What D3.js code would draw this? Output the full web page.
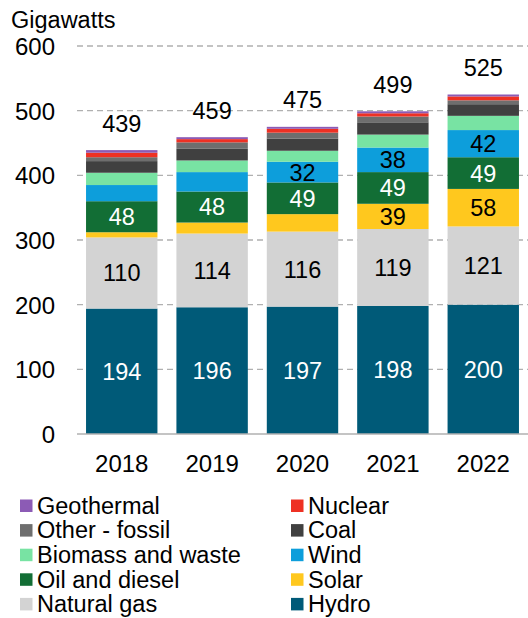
<!DOCTYPE html>
<html><head><meta charset="utf-8">
<script src="https://cdn.jsdelivr.net/npm/d3@7"></script>
<style>body{margin:0;background:#fff;font-family:"Liberation Sans",Arial,sans-serif;}</style>
</head><body><svg id="c" width="528" height="618"></svg>
<script>
const years = ["2018","2019","2020","2021","2022"];
const hydro   = [194,196,197,198,200];
const natGas  = [110,114,116,119,121];
const solar   = [8,17,27,39,58];
const oil     = [48,48,49,49,49];
const wind    = [25,30,32,38,42];
const biomass = [19,18,17,20,22];
const coal    = [18,18,19,19,18];
const otherF  = [6,10,9,9,6];
const nuclear = [7,5,6,5,6];
const geo     = [4,3,3,3,3];
const totals  = [439,459,475,499,525];
const yTicks  = [0,100,200,300,400,500,600];

const series = [
  {name:"Hydro", values:hydro, color:"#005a78", text:"#fff", label:true},
  {name:"Natural gas", values:natGas, color:"#d3d3d3", text:"#000", label:true},
  {name:"Solar", values:solar, color:"#ffc81e", text:"#000", label:true},
  {name:"Oil and diesel", values:oil, color:"#126e35", text:"#fff", label:true},
  {name:"Wind", values:wind, color:"#0d9edb", text:"#000", label:true},
  {name:"Biomass and waste", values:biomass, color:"#78e3a3", text:"#000", label:false},
  {name:"Coal", values:coal, color:"#404040", text:"#fff", label:false},
  {name:"Other - fossil", values:otherF, color:"#6e6e6e", text:"#fff", label:false},
  {name:"Nuclear", values:nuclear, color:"#ee3124", text:"#fff", label:false},
  {name:"Geothermal", values:geo, color:"#8c5bb5", text:"#fff", label:false}
];
const legendOrder = [["Geothermal","Nuclear"],["Other - fossil","Coal"],["Biomass and waste","Wind"],["Oil and diesel","Solar"],["Natural gas","Hydro"]];

const svg = d3.select("#c");
const mLeft = 77, mRight = 528, mTop = 46, mBottom = 434;
const x = d3.scaleBand().domain(years).range([mLeft, mRight]).paddingInner(0.21).paddingOuter(0.1);
const y = d3.scaleLinear().domain([0,600]).range([mBottom, mTop]);
const font = "Liberation Sans, Arial, sans-serif";

// grid
svg.append("g").selectAll("line").data(yTicks.filter(d=>d>0)).join("line")
  .attr("x1", mLeft).attr("x2", mRight).attr("y1", d=>y(d)).attr("y2", d=>y(d))
  .attr("stroke", "#b0b0b0").attr("stroke-width", 1.3).attr("stroke-dasharray", "6,4");

// y axis labels
const yAxis = d3.axisLeft(y).tickValues(yTicks).tickSize(0).tickPadding(0);
const ya = svg.append("g").attr("transform", `translate(55,0)`).call(yAxis);
ya.select(".domain").remove();
ya.selectAll("text").attr("font-size", 24).attr("font-family", font).attr("fill", "#000").attr("dy","0.35em");

svg.append("text").attr("x", 11).attr("y", 28).text("Gigawatts")
  .attr("font-size", 23.5).attr("font-family", font);

// stacks
const table = years.map((yr,i)=>{ const o={year:yr}; series.forEach(s=>o[s.name]=s.values[i]); return o; });
const stack = d3.stack().keys(series.map(s=>s.name))(table);
stack.forEach((layer, li) => {
  const s = series[li];
  svg.append("g").selectAll("rect").data(layer).join("rect")
    .attr("x", d=>x(d.data.year)).attr("width", x.bandwidth())
    .attr("y", d=>y(d[1])).attr("height", d=>y(d[0])-y(d[1]))
    .attr("fill", s.color);
  if (s.label) {
    svg.append("g").selectAll("text").data(layer.filter(d=>d[1]-d[0]>=31)).join("text")
      .attr("x", d=>x(d.data.year)+x.bandwidth()/2)
      .attr("y", d=>(y(d[0])+y(d[1]))/2)
      .attr("dy", "0.36em").attr("text-anchor","middle")
      .attr("font-size", 23.5).attr("font-family", font).attr("fill", s.text)
      .text(d=>d[1]-d[0]);
  }
});

// totals
svg.append("g").selectAll("text").data(years).join("text")
  .attr("x", d=>x(d)+x.bandwidth()/2).attr("y", (d,i)=>y(totals[i])-18.5)
  .attr("text-anchor","middle").attr("font-size", 23.5).attr("font-family", font)
  .text((d,i)=>totals[i]);

// baseline
svg.append("line").attr("x1", mLeft).attr("x2", mRight).attr("y1", y(0)).attr("y2", y(0))
  .attr("stroke", "#b0b0b0").attr("stroke-width", 1.5);

// x axis labels
const xa = svg.append("g").attr("transform", `translate(0,${mBottom})`).call(d3.axisBottom(x).tickSize(0).tickPadding(21));
xa.select(".domain").remove();
xa.selectAll("text").attr("font-size", 24).attr("font-family", font).attr("fill", "#000");

// legend
const colorOf = Object.fromEntries(series.map(s=>[s.name, s.color]));
legendOrder.forEach((row, r) => {
  row.forEach((name, c) => {
    const gx = c === 0 ? 20 : 291;
    const gy = 505.5 + r*24.6;
    svg.append("rect").attr("x", gx).attr("y", gy-6).attr("width", 12.5).attr("height", 12.5).attr("fill", colorOf[name]);
    svg.append("text").attr("x", gx+17).attr("y", gy).attr("dy","0.35em")
      .attr("font-size", 23.5).attr("font-family", font).text(name);
  });
});
</script></body></html>
